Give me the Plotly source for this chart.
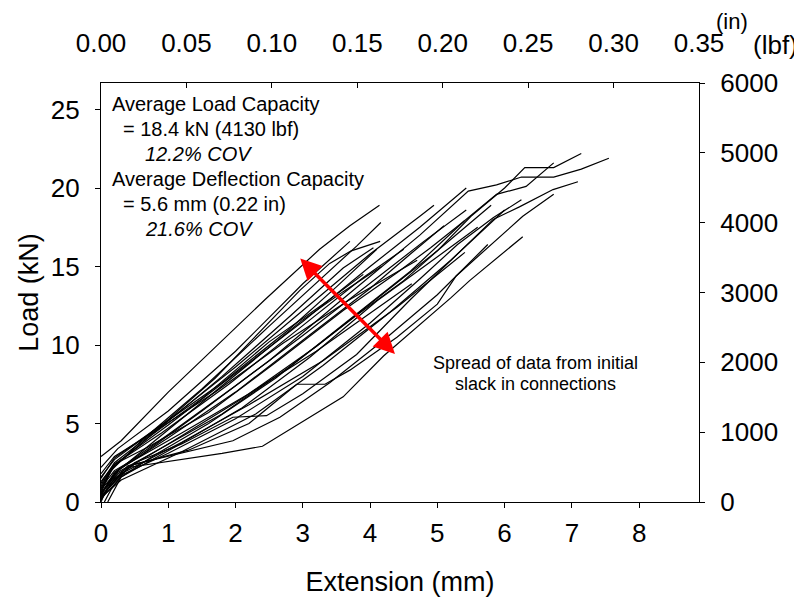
import plotly.graph_objects as go

# load-extension curves, one pair of lists per specimen (mm, kN)
ext_01 = [0, 0.3, 1.0, 2.44, 3.25, 3.7, 4.14]
load_01 = [2.9, 3.9, 7.0, 12.9, 16.1, 17.6, 18.9]
ext_02 = [0, 0.15, 0.6, 1.5, 2.5, 3.3, 3.8, 4.16]
load_02 = [0.6, 2.0, 3.9, 7.2, 11.2, 14.3, 16.3, 17.8]
ext_03 = [0, 0.2, 0.8, 1.7, 2.96, 3.4, 3.72, 4.15]
load_03 = [1.2, 2.5, 4.5, 7.9, 13.5, 15.2, 16.0, 16.6]
ext_04 = [0, 0.2, 1.0, 2.0, 3.0, 3.6, 4.17]
load_04 = [0.4, 1.8, 4.6, 8.1, 11.6, 13.4, 15.0]
ext_05 = [0, 0.25, 1.0, 2.0, 3.0, 3.7]
load_05 = [2.2, 3.4, 5.8, 9.6, 13.9, 16.6]
ext_06 = [0, 0.3, 1.2, 2.2, 3.2, 4.0, 4.62]
load_06 = [0.8, 2.2, 4.4, 6.9, 9.6, 12.0, 13.9]
ext_07 = [0, 0.2, 1.0, 2.0, 3.0, 4.0, 4.74, 4.95]
load_07 = [1.5, 2.8, 5.2, 8.6, 12.2, 15.8, 18.2, 18.9]
ext_08 = [0, 0.2, 1.0, 2.0, 3.0, 4.0, 4.74, 5.43]
load_08 = [1.0, 2.4, 4.9, 8.2, 11.5, 15.0, 17.5, 20.0]
ext_09 = [0, 0.2, 1.0, 2.0, 3.0, 4.0, 4.8, 5.43]
load_09 = [0.5, 1.9, 4.3, 7.4, 10.6, 13.9, 16.6, 18.6]
ext_10 = [0, 0.3, 1.2, 2.2, 3.3, 4.4, 5.41]
load_10 = [0.3, 1.8, 3.8, 6.2, 9.0, 12.4, 15.9]
ext_11 = [0.05, 0.15, 0.4, 1.0, 1.8, 2.4, 2.8, 3.6, 4.2, 5.2, 5.48, 6.27]
load_11 = [0, 0.8, 2.2, 2.6, 3.1, 3.55, 4.6, 6.7, 9.3, 13.0, 14.1, 16.9]
ext_12 = [0, 0.2, 0.5, 1.3, 2.2, 2.91, 3.33, 3.7, 4.4, 5.0, 5.28, 5.83, 6.27, 6.73]
load_12 = [0.2, 1.5, 2.4, 3.3, 5.0, 7.5, 7.5, 8.4, 10.5, 12.6, 14.4, 16.5, 18.2, 19.6]
ext_13 = [0, 0.15, 0.5, 1.2, 1.96, 2.46, 3.0, 3.8, 4.6, 5.3, 5.83, 6.22, 6.72, 7.09]
load_13 = [0.1, 1.2, 2.5, 3.7, 5.4, 5.5, 6.9, 9.4, 12.9, 15.8, 18.0, 18.8, 19.9, 20.4]
ext_14 = [0, 0.1, 0.4, 1.0, 1.96, 2.66, 3.4, 4.2, 5.0, 5.75]
load_14 = [0.0, 1.0, 2.3, 2.9, 3.9, 5.4, 7.6, 10.3, 13.2, 16.4]
ext_15 = [0, 0.2, 0.6, 1.5, 2.5, 3.5, 4.74, 5.46, 5.88, 6.25, 6.73, 7.14, 7.55]
load_15 = [0.9, 2.0, 3.0, 5.8, 9.0, 12.6, 17.0, 19.8, 20.2, 20.7, 20.7, 21.2, 21.9]
ext_16 = [0, 0.25, 0.8, 1.8, 2.8, 3.8, 4.5, 5.0, 5.5, 6.0, 6.3, 6.73, 7.14]
load_16 = [0.6, 1.9, 3.2, 5.6, 8.6, 11.9, 14.1, 16.0, 18.2, 20.0, 21.3, 21.3, 22.2]
ext_17 = [0, 0.2, 0.7, 1.6, 2.6, 3.6, 4.4, 4.9, 5.4, 5.88, 6.32, 6.73]
load_17 = [1.3, 2.4, 3.5, 5.7, 8.9, 12.2, 14.6, 16.2, 17.9, 19.6, 20.1, 21.6]
ext_18 = [0, 0.3, 1.0, 2.0, 3.0, 4.0, 4.74, 5.3, 5.83, 6.25]
load_18 = [0.4, 1.7, 3.1, 5.3, 8.0, 11.4, 14.2, 16.4, 18.1, 19.25]
ext_19 = [0, 0.2, 0.9, 1.8, 2.8, 3.6, 4.05]
load_19 = [0.9, 2.3, 4.8, 8.0, 11.8, 14.9, 16.2]
ext_20 = [0, 0.25, 1.0, 2.0, 3.0, 4.0, 4.6, 5.1]
load_20 = [0.5, 2.0, 4.1, 7.0, 10.3, 13.6, 15.8, 17.6]
ext_21 = [0, 0.3, 1.1, 2.1, 3.1, 4.1, 4.9, 5.6]
load_21 = [0.2, 1.6, 3.5, 6.0, 9.2, 12.8, 15.3, 17.5]
ext_22 = [0, 0.2, 0.8, 1.7, 2.7, 3.7, 4.7]
load_22 = [1.8, 2.9, 4.5, 7.0, 10.1, 12.9, 15.4]
ext_23 = [0, 0.15, 0.7, 1.5, 2.5, 3.3, 3.9]
load_23 = [0.7, 2.1, 4.1, 6.6, 10.2, 12.6, 14.5]
ext_24 = [0, 0.3, 1.2, 2.3, 3.3, 4.3, 5.2, 6.0]
load_24 = [0.3, 1.4, 3.2, 5.6, 8.7, 12.1, 15.4, 18.6]
ext_25 = [0, 0.2, 0.9, 1.9, 2.9, 3.9, 4.5]
load_25 = [1.1, 2.4, 4.4, 7.5, 10.9, 14.3, 16.1]
ext_26 = [0, 0.25, 1.0, 2.1, 3.2, 4.2, 5.0, 5.8]
load_26 = [0.6, 1.8, 3.7, 6.6, 9.9, 13.3, 16.0, 18.9]
ext_27 = [0.1, 0.3, 0.8, 1.6, 2.6, 3.6, 4.6, 5.4]
load_27 = [0, 1.6, 3.0, 5.0, 7.9, 11.3, 14.7, 17.9]
ext_28 = [0, 0.2, 0.8, 1.8, 2.8, 3.5, 4.1]
load_28 = [1.6, 2.7, 4.6, 7.6, 11.0, 13.7, 16.1]

curves = [
    (ext_01, load_01), (ext_02, load_02), (ext_03, load_03), (ext_04, load_04),
    (ext_05, load_05), (ext_06, load_06), (ext_07, load_07), (ext_08, load_08),
    (ext_09, load_09), (ext_10, load_10), (ext_11, load_11), (ext_12, load_12),
    (ext_13, load_13), (ext_14, load_14), (ext_15, load_15), (ext_16, load_16),
    (ext_17, load_17), (ext_18, load_18), (ext_19, load_19), (ext_20, load_20),
    (ext_21, load_21), (ext_22, load_22), (ext_23, load_23), (ext_24, load_24),
    (ext_25, load_25), (ext_26, load_26), (ext_27, load_27), (ext_28, load_28),
]

mm_ticks = [0, 1, 2, 3, 4, 5, 6, 7, 8]
in_ticks = [0.00, 0.05, 0.10, 0.15, 0.20, 0.25, 0.30, 0.35]
kn_ticks = [0, 5, 10, 15, 20, 25]
lbf_ticks = [0, 1000, 2000, 3000, 4000, 5000, 6000]

MM_PER_IN = 25.4
KN_PER_LBF = 0.0044482
x_max_in = 0.35
y_max_lbf = 6000

FONT = "Liberation Sans"

fig = go.Figure()
for ext, load in curves:
    fig.add_trace(go.Scatter(x=ext, y=load, mode='lines',
                             line=dict(color='black', width=1.2),
                             showlegend=False, hoverinfo='skip'))

# same first curve in imperial units, invisible, so the top/right axes get drawn
fig.add_trace(go.Scatter(x=[e / MM_PER_IN for e in ext_01],
                         y=[l / KN_PER_LBF for l in load_01],
                         xaxis='x2', yaxis='y2', mode='lines',
                         line=dict(color='rgba(0,0,0,0)', width=0),
                         showlegend=False, hoverinfo='skip'))

axis_common = dict(showline=True, linecolor='black', linewidth=1.2,
                   showgrid=False, zeroline=False, ticklen=5,
                   tickcolor='black', tickwidth=1, automargin=False,
                   tickfont=dict(family=FONT, size=26, color='black'))

# page body has an 8px margin, so the figure is 8px smaller each way
fig.update_layout(
    width=794, height=591,
    margin=dict(l=93, r=103, t=75, b=97),
    paper_bgcolor='white', plot_bgcolor='white',
    font=dict(family=FONT, color='black'),
    xaxis=dict(range=[0, x_max_in * MM_PER_IN], tickvals=mm_ticks, ticks='outside',
               ticklabelstandoff=3,
               title=dict(text='Extension (mm)', font=dict(size=27), standoff=24),
               **axis_common),
    xaxis2=dict(range=[0, x_max_in], tickvals=in_ticks, tickformat='.2f',
                overlaying='x', side='top', anchor='y', ticks='inside',
                ticklabelstandoff=20, **axis_common),
    yaxis=dict(range=[0, y_max_lbf * KN_PER_LBF], tickvals=kn_ticks, ticks='outside',
               ticklabelstandoff=10,
               title=dict(text='Load (kN)', font=dict(size=27), standoff=4),
               **axis_common),
    yaxis2=dict(range=[0, y_max_lbf], tickvals=lbf_ticks, overlaying='y',
                side='right', anchor='x', ticks='outside', ticklabelstandoff=10,
                **axis_common),
)

notes = [
    ('Average Load Capacity', 0.015, 0.95, False),
    ('= 18.4 kN (4130 lbf)', 0.034, 0.89, False),
    ('12.2% COV', 0.071, 0.83, True),
    ('Average Deflection Capacity', 0.015, 0.771, False),
    ('= 5.6 mm (0.22 in)', 0.034, 0.711, False),
    ('21.6% COV', 0.071, 0.652, True),
]
for text, xp, yp, ital in notes:
    fig.add_annotation(text='<i>' + text + '</i>' if ital else text,
                       xref='paper', yref='paper', x=xp, y=yp,
                       xanchor='left', yanchor='middle', showarrow=False,
                       font=dict(family=FONT, size=20, color='black'))

for text, yp in [('Spread of data from initial', 0.332), ('slack in connections', 0.282)]:
    fig.add_annotation(text=text, xref='paper', yref='paper', x=0.726, y=yp,
                       xanchor='center', yanchor='middle', showarrow=False,
                       font=dict(family=FONT, size=18, color='black'))

# red double arrow
fig.add_annotation(x=4.37, y=9.43, ax=2.94, ay=15.6, xref='x', yref='y',
                   axref='x', ayref='y', text='', showarrow=True,
                   arrowside='end+start', arrowhead=2, startarrowhead=2,
                   arrowsize=1.2, startarrowsize=1.2, arrowwidth=3.5,
                   arrowcolor='#ff0000')

# unit labels for top and right axes
fig.add_annotation(text='(in)', xref='paper', yref='paper', x=1.056, y=1.1456,
                   xanchor='center', yanchor='middle', showarrow=False,
                   font=dict(family=FONT, size=22, color='black'))
fig.add_annotation(text='(lbf)', xref='paper', yref='paper', x=1.169, y=1.091,
                   xanchor='right', yanchor='middle', showarrow=False,
                   font=dict(family=FONT, size=26, color='black'))

fig.write_html("out.html")
